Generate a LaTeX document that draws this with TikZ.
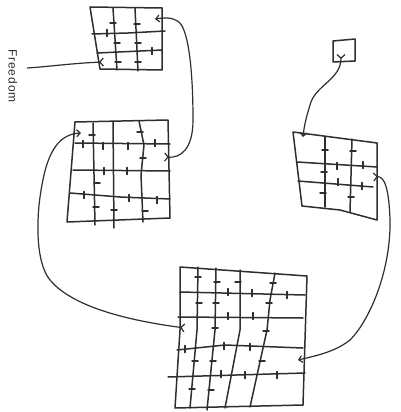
\documentclass[tikz,border=0pt]{standalone}
\usepackage{fontspec}
\usetikzlibrary{arrows.meta}
\newfontfamily\handfont[LetterSpace=8]{Liberation Sans}
\definecolor{ink}{HTML}{2E2E2E}
\tikzset{
  wall/.style={draw=ink, line width=1.5pt, line join=round, line cap=round},
  tickmark/.style={draw=ink, line width=1.5pt, line cap=round},
  link/.style={draw=ink, line width=1.2pt,
    {Straight Barb[reversed,length=3.5pt,width=8pt]}-{Straight Barb[length=3.5pt,width=7pt]}},
  exitlink/.style={draw=ink, line width=1.2pt,
    {Straight Barb[reversed,length=3.5pt,width=8pt]}-}
}
\begin{document}
\begin{tikzpicture}[x=1pt,y=-1pt]
\useasboundingbox (0,0) rectangle (401,412);

% ---------- Grid 1 (top) ----------
\draw[wall] (90,7) -- (162,8) -- (162,70) -- (100,69) -- cycle;
\draw[wall] (113,8) -- (117,70);
\draw[wall] (135,8) -- (138,71);
\draw[wall] (92,34) -- (128,33) -- (165,31);
\draw[wall] (97,53) -- (162,50);
\foreach \x/\y in {113/23,137/24,117/43,138/43,118/62,138/62}
  \draw[tickmark] (\x-3,\y) -- (\x+3,\y);
\foreach \x/\y in {107/33,152/51}
  \draw[tickmark] (\x,\y-3.5) -- (\x,\y+3.5);
\coordinate (g1in) at (155,19);
\coordinate (g1out) at (104,62);

% ---------- Grid 2 ----------
\draw[wall] (75,122) -- (168,120) -- (170,218) -- (67,222) -- cycle;
\draw[wall] (93,123) -- (95,225);
\draw[wall] (113,122) -- (114,228);
\draw[wall] (139,121) -- (144,145) -- (141,175) -- (143,222);
\draw[wall] (75,143) -- (170,144);
\draw[wall] (73,170) -- (170,171);
\draw[wall] (70,193) -- (120,197) -- (170,199);
\foreach \x/\y in {92/135,140/132,143/158,97/183,96/207,114/210,145/211}
  \draw[tickmark] (\x-3,\y) -- (\x+3,\y);
\foreach \x/\y in {83/144,103/146,128/146,155/143,104/171,127/171,84/195,129/198,157/200}
  \draw[tickmark] (\x,\y-3.5) -- (\x,\y+3.5);
\coordinate (g2in) at (81,133);
\coordinate (g2out) at (164,157);

% ---------- Small box ----------
\draw[wall] (333,41) -- (355,39) -- (355,61) -- (333,62) -- cycle;
\coordinate (boxout) at (341,54);

% ---------- Grid 3 ----------
\draw[wall] (293,132) -- (377,143) -- (377,220) -- (340,210) -- (302,206) -- cycle;
\draw[wall] (325,137) -- (325,207);
\draw[wall] (352,139) -- (350,212);
\draw[wall] (297,162) -- (377,167);
\draw[wall] (298,181) -- (373,187);
\foreach \x/\y in {325/150,353/151,324/172,323/193,351/197}
  \draw[tickmark] (\x-3,\y) -- (\x+3,\y);
\foreach \x/\y in {337/166,363/165,338/182,362/186}
  \draw[tickmark] (\x,\y-3.5) -- (\x,\y+3.5);
\coordinate (g3in) at (303,137);
\coordinate (g3out) at (373,177);

% ---------- Grid 4 (bottom) ----------
\draw[wall] (180,267) -- (307,276) -- (305,340) -- (303,405) -- (175,408) -- (180,330) -- cycle;
\draw[wall] (198,267) -- (197,330) -- (190,408);
\draw[wall] (216,268) -- (215,330) -- (207,410);
\draw[wall] (240,270) -- (240,330) -- (225,408);
\draw[wall] (275,273) -- (270,300) -- (267,330) -- (250,407);
\draw[wall] (180,292) -- (305,295);
\draw[wall] (178,317) -- (303,318);
\draw[wall] (177,350) -- (225,345) -- (303,348);
\draw[wall] (168,377) -- (305,373);
\foreach \x/\y in {198/277,217/282,238/282,273/283,199/303,216/303,269/303,215/328,266/331,195/361,213/361,262/361,192/389,211/390}
  \draw[tickmark] (\x-3,\y) -- (\x+3,\y);
\foreach \x/\y in {228/292,252/293,287/295,228/316,253/316,185/349,224/346,250/347,221/374,245/375,277/375}
  \draw[tickmark] (\x,\y-3.5) -- (\x,\y+3.5);
\coordinate (g4in) at (298,360);
\coordinate (g4out) at (185,328);

% ---------- Freedom ----------
\node[rotate=-90, text=ink, inner sep=0pt, font=\handfont\fontsize{12}{14}\selectfont] (freedom) at (13,76) {Freedom};
\coordinate (freeend) at (27,68);

% ---------- Connectors ----------
\draw[link] (boxout) .. controls (341,80) and (315,85) .. (310,105)
  .. controls (306,118) and (304,127) .. (g3in);
\draw[link] (g3out) .. controls (385,176) and (389,190) .. (390,220)
  .. controls (391,270) and (370,320) .. (350,340)
  .. controls (335,352) and (315,356) .. (g4in);
\draw[link] (g4out) .. controls (140,322) and (75,310) .. (50,280)
  .. controls (35,262) and (36,215) .. (42,185)
  .. controls (48,150) and (60,134) .. (g2in);
\draw[link] (g2out) .. controls (180,158) and (193,150) .. (193,120)
  .. controls (193,80) and (190,35) .. (180,23)
  .. controls (172,16) and (163,18) .. (g1in);
\draw[exitlink] (g1out) .. controls (75,63) and (45,67) .. (freeend);
\end{tikzpicture}
\end{document}
